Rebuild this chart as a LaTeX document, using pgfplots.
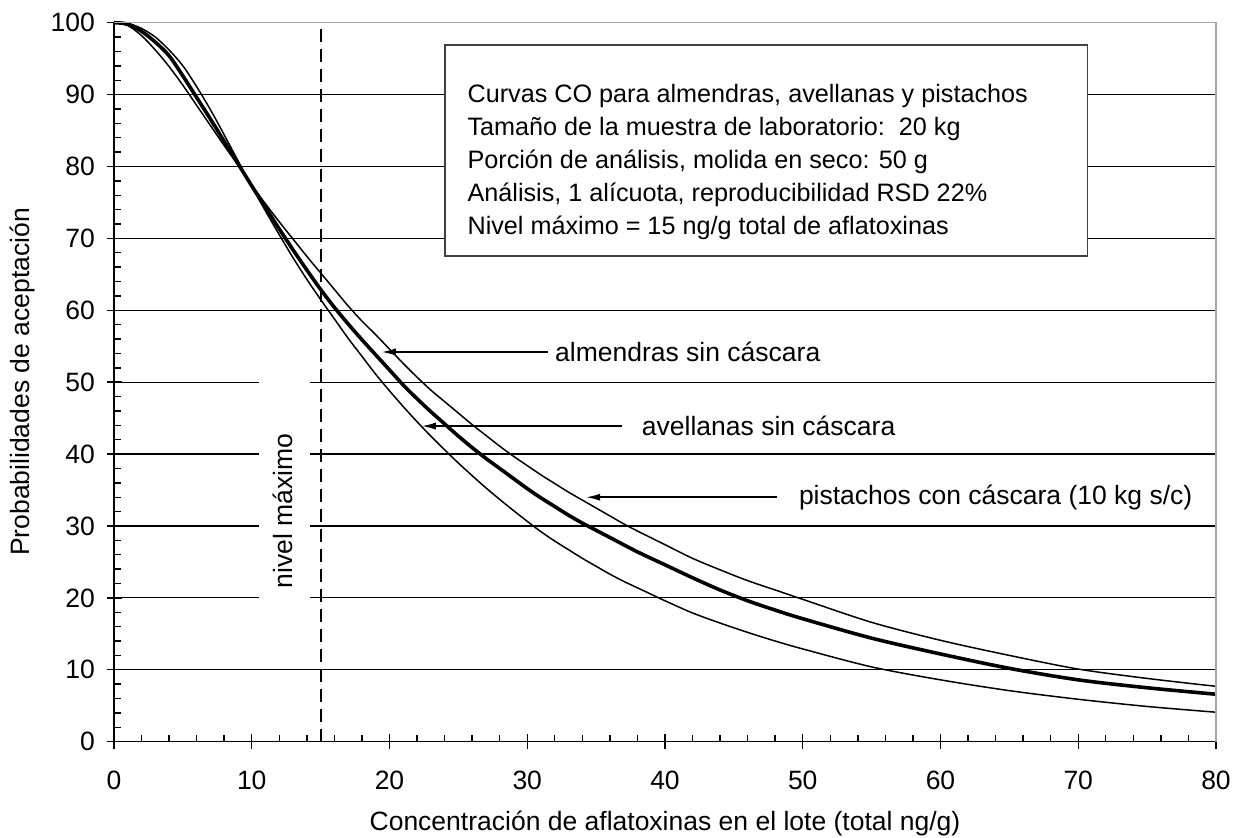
\documentclass[border=0pt]{standalone}
\usepackage{pgfplots}
\usepackage{pgfplotstable}
\pgfplotsset{compat=1.18}
\usepackage{fontspec}
\setmainfont{Liberation Sans}
\usetikzlibrary{arrows.meta}

\pgfplotstableread{
x y
0 100
1 99.8
2 98.8
3 97.3
4 95.4
5 92.6
6 89.6
7 86.6
8 83.5
9 80.4
10 77.3
11 74.3
12 71.3
13 68.4
14 65.6
15 62.9
16 60.4
17 58.1
18 55.9
19 53.8
20 51.7
21 49.6
22 47.7
23 45.9
24 44.2
25 42.5
26 40.9
27 39.4
28 38.0
29 36.6
30 35.2
31 33.9
32 32.7
33 31.5
34 30.4
35 29.4
36 28.4
38 26.4
40 24.6
42 22.8
44 21.1
46 19.6
48 18.3
50 17.1
55 14.4
60 12.2
65 10.2
70 8.6
75 7.5
80 6.6
}\almendras

\pgfplotstableread{
x y
0 100
1 99.6
2 98.2
3 96.2
4 93.9
5 91.3
6 88.5
7 85.7
8 82.9
9 80.2
10 77.4
11 74.8
12 72.3
13 69.9
14 67.5
15 65.2
16 62.9
17 60.6
18 58.5
19 56.6
20 54.6
21 52.6
22 50.7
23 48.9
24 47.3
25 45.7
26 44.1
27 42.6
28 41.1
29 39.7
30 38.4
31 37.1
32 35.9
33 34.7
34 33.6
35 32.5
36 31.4
37 30.3
38 29.3
40 27.4
42 25.5
44 23.9
46 22.4
48 21.1
50 19.8
55 16.6
60 14.1
65 12.0
70 10.1
75 8.8
80 7.7
}\pistachos

\pgfplotstableread{
x y
0 100
1 99.9
2 99.2
3 98.0
4 96.2
5 94.0
6 91.1
7 87.9
8 84.4
9 80.8
10 77.2
11 73.8
12 70.5
13 67.3
14 64.3
15 61.5
16 58.8
17 56.1
18 53.6
19 51.1
20 48.8
21 46.6
22 44.5
23 42.5
24 40.6
25 38.75
26 37.0
27 35.3
28 33.7
29 32.15
30 30.65
31 29.2
32 27.9
33 26.7
34 25.5
35 24.4
36 23.3
37 22.3
38 21.4
39 20.5
40 19.6
42 17.9
44 16.5
46 15.2
48 14.0
50 12.9
55 10.4
60 8.6
65 7.1
70 5.9
75 4.9
80 4.1
}\avellanas

\begin{document}
\fontsize{13.25pt}{15.9pt}\selectfont
\begin{tikzpicture}
\path[use as bounding box] (0,0) rectangle (620.5pt,419pt);
\begin{axis}[
  at={(57pt,48.15pt)}, anchor=south west,
  width=551pt, height=359.5pt, scale only axis,
  xmin=0, xmax=80, ymin=0, ymax=100,
  xtick={0,10,...,80}, ytick={0,10,...,100},
  minor x tick num=4, minor y tick num=4,
  axis x line*=bottom, axis y line*=left,
  axis line style={black, line width=0.8pt, -},
  ymajorgrids, grid style={black, line width=0.6pt},
  tick style={black, line width=0.7pt},
  tick align=inside,
  major tick length=7.5pt, minor tick length=3.5pt,
  every major x tick/.append style={yshift=-3.75pt},
  every major y tick/.append style={xshift=-3.75pt},
  xticklabel style={yshift=-10pt},
  yticklabel style={xshift=-5pt},
  /pgf/number format/assume math mode=true,
  ticklabel style={font=\fontsize{13.25pt}{15.9pt}\selectfont},
  clip=false,
]
\addplot[black, line width=0.75pt, smooth] table {\pistachos};
\addplot[black, line width=1.8pt, smooth] table {\almendras};
\addplot[black, line width=0.75pt, smooth] table {\avellanas};
\addplot[black, line width=1.1pt, dash pattern=on 6.5pt off 3.5pt] coordinates {(15,0) (15,100)};

\fill[white] (axis cs:10.53,18.3) rectangle (axis cs:14.23,51.5);
\node[rotate=90, inner sep=0pt] at (axis cs:12.27,32.1) {nivel máximo};

\draw[gray!70, line width=0.8pt] (axis cs:0,100) -- (axis cs:80,100) -- (axis cs:80,0);

\draw[black!75, line width=0.8pt, fill=white] (axis cs:24.04,67.55) rectangle (axis cs:70.66,96.9);
\node[anchor=west, align=left, inner sep=0pt, font=\fontsize{12.6pt}{16.5pt}\selectfont] at (axis cs:25.64,80.6)
 {Curvas CO para almendras, avellanas y pistachos\\
  Tamaño de la muestra de laboratorio:\ \ 20 kg\\
  Porción de análisis, molida en seco: 50 g\\
  Análisis, 1 alícuota, reproducibilidad RSD 22\%\\
  Nivel máximo = 15 ng/g total de aflatoxinas};

\draw[line width=0.75pt, -{Latex[length=7pt,width=3.6pt]}] (axis cs:31.5,54.2) -- (axis cs:19.44,54.2);
\node[anchor=west, inner sep=0pt] at (axis cs:32.0,54.2) {almendras sin cáscara};
\draw[line width=0.75pt, -{Latex[length=7pt,width=3.6pt]}] (axis cs:36.9,43.9) -- (axis cs:22.35,43.9);
\node[anchor=west, inner sep=0pt] at (axis cs:38.3,43.9) {avellanas sin cáscara};
\draw[line width=0.75pt, -{Latex[length=7pt,width=3.6pt]}] (axis cs:48.1,34.0) -- (axis cs:34.28,34.0);
\node[anchor=west, inner sep=0pt] at (axis cs:49.7,34.0) {pistachos con cáscara (10 kg s/c)};
\end{axis}
\node[rotate=90] at (11pt,228pt) {Probabilidades de aceptación};
\node at (332.5pt,7pt) {Concentración de aflatoxinas en el lote (total ng/g)};
\end{tikzpicture}
\end{document}
